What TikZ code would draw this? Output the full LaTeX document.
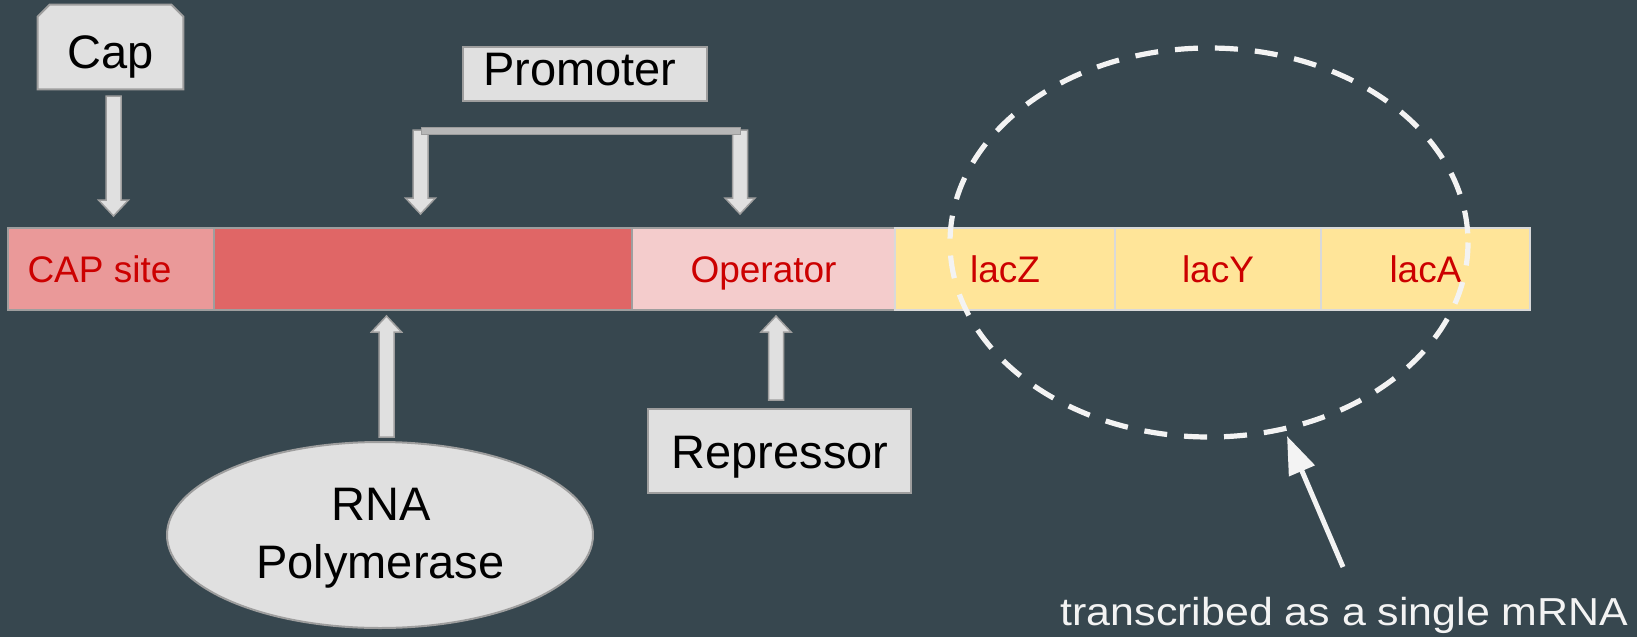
\documentclass[tikz,border=0pt]{standalone}
\usepackage{fontspec}
\usepackage{graphicx}
\setmainfont{Liberation Sans}
\usetikzlibrary{calc,arrows.meta,shapes.geometric}

\definecolor{slate}{HTML}{37474F}
\definecolor{boxfill}{HTML}{E0E0E0}
\definecolor{boxline}{HTML}{9E9E9E}
\definecolor{capsite}{HTML}{EA9999}
\definecolor{promred}{HTML}{E06666}
\definecolor{operpink}{HTML}{F4CCCC}
\definecolor{geneyellow}{HTML}{FFE599}
\definecolor{geneline}{HTML}{D9D9D9}
\definecolor{labelred}{HTML}{CC0000}
\definecolor{chalk}{HTML}{F3F3F3}
\definecolor{bracegray}{HTML}{B7B7B7}

% block arrow: #1 name, #2 tail coordinate, #3 tip coordinate
\newcommand\blockarrow[3]{%
  \coordinate (#1-base) at ($(#3)!8pt!(#2)$);
  \draw[blockarrowstyle]
    ($(#2)!3.75pt!90:(#3)$) -- ($(#1-base)!3.75pt!90:(#3)$) --
    ($(#1-base)!7.5pt!90:(#3)$) -- (#3) --
    ($(#1-base)!7.5pt!-90:(#3)$) -- ($(#1-base)!3.75pt!-90:(#3)$) --
    ($(#2)!3.75pt!-90:(#3)$) -- cycle;}

\begin{document}
\begin{tikzpicture}[x=0.5pt,y=-0.5pt,
  seg/.style={draw=boxline,line width=1pt,anchor=north west,minimum height=41pt,
    inner sep=0pt,outer sep=0pt,text=labelred,font=\fontsize{18.5pt}{22pt}\selectfont,
    text height=13.5pt,text depth=0pt},
  gene/.style={seg,draw=geneline,fill=geneyellow},
  redlbl/.style={text=labelred,font=\fontsize{18.5pt}{22pt}\selectfont,anchor=base,inner sep=0pt},
  blklbl/.style={text=black,font=\fontsize{23.5pt}{29pt}\selectfont,anchor=base,inner sep=0pt},
  graybox/.style={fill=boxfill,draw=boxline,line width=1pt,inner sep=0pt},
  blockarrowstyle/.style={fill=boxfill,draw=boxline,line width=0.75pt,line join=miter},
]
% backdrop
\fill[slate] (0,0) rectangle (1637,637);
\useasboundingbox (0,0) rectangle (1637,637);

% operon strip
\node[seg,fill=capsite,minimum width=103pt] (capsite) at (8,228) {};
\node[seg,fill=promred,minimum width=209pt] (promoter) at (214,228) {};
\node[seg,fill=operpink,minimum width=131.5pt] (operator) at (632,228) {Operator};
\node[gene,minimum width=110pt] (lacZ) at (895,228) {lacZ};
\node[gene,minimum width=103pt] (lacY) at (1115,228) {lacY};
\node[gene,minimum width=104.5pt] (lacA) at (1321,228) {lacA};
\node[redlbl] (capsitetext) at (99.5,282) {CAP site};

% regulator boxes
% Cap: a box with its two upper corners snipped off
\node[inner sep=0pt,minimum width=72.5pt,minimum height=42pt] (capbox) at (110.5,47) {};
\draw[fill=boxfill,draw=boxline,line width=1pt]
  (capbox.south west) -- ($(capbox.north west)+(0,12)$) -- ($(capbox.north west)+(12,0)$)
  -- ($(capbox.north east)+(-12,0)$) -- ($(capbox.north east)+(0,12)$)
  -- (capbox.south east) -- cycle;
\node[blklbl] (captext) at (110.5,68) {Cap};

\node[graybox,minimum width=122pt,minimum height=27pt] (prombox) at (585,74) {};
\node[blklbl] (promtext) at (580,85) {Promoter};

\node[graybox,minimum width=131.5pt,minimum height=42pt] (repbox) at (779.5,451) {};
\node[blklbl] (reptext) at (780,468) {Repressor};

\node[graybox,ellipse,minimum width=213pt,minimum height=93pt] (rnapol) at (380,535) {};
\node[blklbl] (rnatext) at (381,520) {RNA};
\node[blklbl] (poltext) at (380.5,578) {Polymerase};

% arrow ends
\coordinate (capT) at (113.5,96);   \coordinate (capP) at (113.5,216);
\coordinate (plT) at (420.5,130);   \coordinate (plP) at (420.5,214);
\coordinate (prT) at (740,130);     \coordinate (prP) at (740,214);
\coordinate (rnaT) at (386.5,437);  \coordinate (rnaP) at (386.5,316);
\coordinate (repT) at (776,400);    \coordinate (repP) at (776,316);

\blockarrow{capA}{capT}{capP}
\blockarrow{plA}{plT}{plP}
\blockarrow{prA}{prT}{prP}
\blockarrow{rnaA}{rnaT}{rnaP}
\blockarrow{repA}{repT}{repP}

% promoter bracket
\draw[fill=bracegray,draw=bracegray!85!black,line width=0.5pt] (421,127) rectangle (740,134);

% polycistronic region
\draw[chalk,line width=2.6pt,dash pattern=on 11.5pt off 8.5pt]
  (1209,242.5) ellipse [x radius=259, y radius=194.5];

\coordinate (mtail) at (1343,567);
\coordinate (mtip) at (1287,436);
\draw[chalk,line width=2.5pt,-{Triangle[length=19pt,width=13.5pt]}] (mtail) -- (mtip);

\node[anchor=base,inner sep=0pt,text=chalk,font=\fontsize{19.5pt}{24pt}\selectfont] (mrna)
  at (1344.5,625) {\scalebox{1.1}[1]{transcribed as a single mRNA}};
\end{tikzpicture}
\end{document}
